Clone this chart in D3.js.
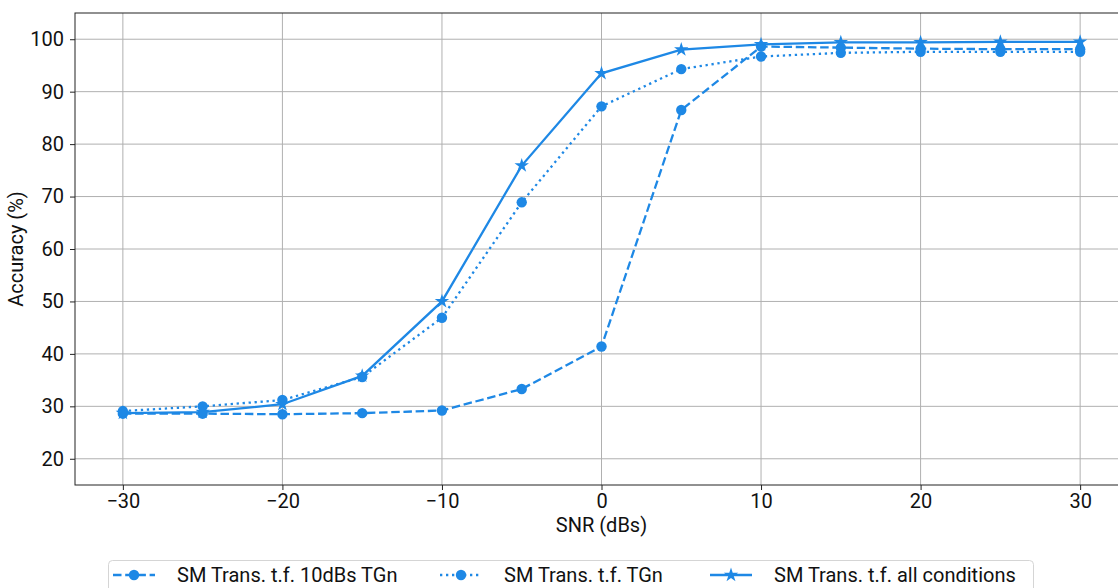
<!DOCTYPE html>
<html>
<head>
<meta charset="utf-8">
<script src="https://cdn.jsdelivr.net/npm/d3@7"></script>
<style>
  body { margin: 0; background: #fff; }
  text { font-family: Roboto, "DejaVu Sans", sans-serif; fill: #111; }
</style>
</head>
<body>
<div id="chart"></div>
<script>
// SNR values (x) and accuracy series (%)
var snr = [-30, -25, -20, -15, -10, -5, 0, 5, 10, 15, 20, 25, 30];
var acc10dB = [28.6, 28.6, 28.5, 28.7, 29.2, 33.3, 41.4, 86.5, 98.6, 98.4, 98.2, 98.1, 98.1];
var accTGn = [29.1, 30.0, 31.2, 35.6, 46.9, 68.9, 87.2, 94.3, 96.7, 97.4, 97.6, 97.6, 97.6];
var accAll = [28.7, 28.9, 30.4, 35.8, 50.0, 75.9, 93.5, 98.0, 99.0, 99.4, 99.4, 99.5, 99.5];
var xTicks = [-30, -20, -10, 0, 10, 20, 30];
var yTicks = [20, 30, 40, 50, 60, 70, 80, 90, 100];
var seriesNames = ["SM Trans. t.f. 10dBs TGn", "SM Trans. t.f. TGn", "SM Trans. t.f. all conditions"];

var W = 1118, H = 588;
var margin = { top: 13, right: -10, bottom: 103, left: 75 };
var width = W - margin.left - margin.right;
var height = H - margin.top - margin.bottom;
var blue = "#1e88e5";
var fs = "20px";

var svg = d3.select("#chart").append("svg")
    .attr("width", W)
    .attr("height", H);

var g = svg.append("g")
    .attr("transform", "translate(" + margin.left + "," + margin.top + ")");

var x = d3.scaleLinear().domain([-33, 33]).range([0, width]);
var y = d3.scaleLinear().domain([15, 105]).range([height, 0]);

// grid
g.append("g").selectAll("line").data(xTicks).enter().append("line")
    .attr("x1", d => x(d)).attr("x2", d => x(d))
    .attr("y1", 0).attr("y2", height)
    .attr("stroke", "#b0b0b0").attr("stroke-width", 1);
g.append("g").selectAll("line").data(yTicks).enter().append("line")
    .attr("x1", 0).attr("x2", width)
    .attr("y1", d => y(d)).attr("y2", d => y(d))
    .attr("stroke", "#b0b0b0").attr("stroke-width", 1);

// axes
var xAxis = d3.axisBottom(x).tickValues(xTicks).tickSize(5).tickPadding(4)
    .tickFormat(d => d < 0 ? "\u2212" + Math.abs(d) : d);
var yAxis = d3.axisLeft(y).tickValues(yTicks).tickSize(5).tickPadding(6);

var gx = g.append("g").attr("transform", "translate(0," + height + ")").call(xAxis);
var gy = g.append("g").call(yAxis);
[gx, gy].forEach(function(a) {
    a.select(".domain").remove();
    a.selectAll("line").attr("stroke", "#222");
    a.selectAll("text").style("font-size", fs).attr("fill", "#111");
});

// frame
g.append("rect")
    .attr("x", 0).attr("y", 0).attr("width", width).attr("height", height)
    .attr("fill", "none").attr("stroke", "#222").attr("stroke-width", 1);

// axis labels
g.append("text")
    .attr("x", x(0)).attr("y", height + 47)
    .attr("text-anchor", "middle")
    .style("font-size", fs)
    .text("SNR (dBs)");
g.append("text")
    .attr("transform", "rotate(-90)")
    .attr("x", -height / 2).attr("y", -52)
    .attr("text-anchor", "middle")
    .style("font-size", fs)
    .text("Accuracy (%)");

var series = [
    { name: seriesNames[0], values: acc10dB, dash: "8.5,3.7", marker: "circle" },
    { name: seriesNames[1], values: accTGn, dash: "2.3,3.7", marker: "circle" },
    { name: seriesNames[2], values: accAll, dash: null, marker: "star" }
];

var line = d3.line()
    .x((d, i) => x(snr[i]))
    .y(d => y(d));

var star = d3.symbol().type(d3.symbolStar).size(65);

series.forEach(function(s) {
    g.append("path")
        .datum(s.values)
        .attr("fill", "none")
        .attr("stroke", blue)
        .attr("stroke-width", 2.3)
        .attr("stroke-dasharray", s.dash)
        .attr("d", line);

    if (s.marker === "circle") {
        g.append("g").selectAll("circle").data(s.values).enter().append("circle")
            .attr("cx", (d, i) => x(snr[i]))
            .attr("cy", d => y(d))
            .attr("r", 5.2)
            .attr("fill", blue);
    } else {
        g.append("g").selectAll("path").data(s.values).enter().append("path")
            .attr("transform", (d, i) => "translate(" + x(snr[i]) + "," + y(d) + ")")
            .attr("d", star)
            .attr("fill", blue);
    }
});

// legend
var legend = svg.append("g").attr("transform", "translate(108,560)");
legend.append("rect")
    .attr("x", 0.5).attr("y", 0.5).attr("width", 925).attr("height", 40)
    .attr("rx", 4)
    .attr("fill", "#fff").attr("stroke", "#d5d5d5");

var legX = [5, 332, 602];
series.forEach(function(s, i) {
    var lg = legend.append("g").attr("transform", "translate(" + legX[i] + ",15)");
    lg.append("line")
        .attr("x1", 0).attr("x2", 42).attr("y1", 0).attr("y2", 0)
        .attr("stroke", blue).attr("stroke-width", 2.3)
        .attr("stroke-dasharray", s.dash);
    if (s.marker === "circle") {
        lg.append("circle").attr("cx", 21).attr("cy", 0).attr("r", 5.2).attr("fill", blue);
    } else {
        lg.append("path").attr("transform", "translate(21,0)").attr("d", star).attr("fill", blue);
    }
    lg.append("text")
        .attr("x", 64).attr("y", 7)
        .style("font-size", fs)
        .text(s.name);
});
</script>
</body>
</html>
